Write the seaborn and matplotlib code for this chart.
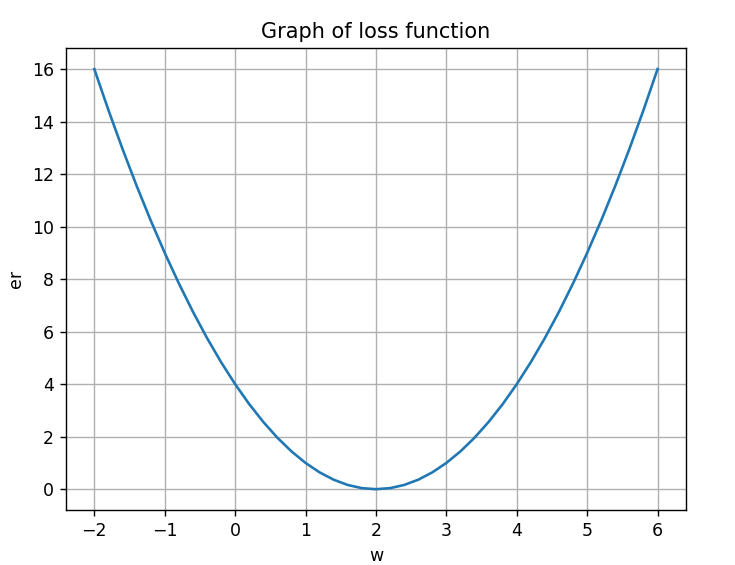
import matplotlib
matplotlib.use("Agg")
import matplotlib.pyplot as plt
import seaborn as sns
import pandas as pd

# values
w = [-2.0, -1.8, -1.6, -1.4, -1.2, -1.0, -0.8, -0.6, -0.4, -0.2,
     0.0, 0.2, 0.4, 0.6, 0.8, 1.0, 1.2, 1.4, 1.6, 1.8,
     2.0, 2.2, 2.4, 2.6, 2.8, 3.0, 3.2, 3.4, 3.6, 3.8,
     4.0, 4.2, 4.4, 4.6, 4.8, 5.0, 5.2, 5.4, 5.6, 5.8, 6.0]
er = [16.0, 14.44, 12.96, 11.56, 10.24, 9.0, 7.84, 6.76, 5.76, 4.84,
      4.0, 3.24, 2.56, 1.96, 1.44, 1.0, 0.64, 0.36, 0.16, 0.04,
      0.0, 0.04, 0.16, 0.36, 0.64, 1.0, 1.44, 1.96, 2.56, 3.24,
      4.0, 4.84, 5.76, 6.76, 7.84, 9.0, 10.24, 11.56, 12.96, 14.44, 16.0]

loss_df = pd.DataFrame({"w": w, "er": er})

fig, ax = plt.subplots(figsize=(5.88, 4.52), dpi=125)
fig.subplots_adjust(left=0.09, right=0.933, top=0.915, bottom=0.097)

sns.lineplot(data=loss_df, x="w", y="er", color="#1f77b4", linewidth=1.5, ax=ax)

ax.set_title("Graph of loss function")
ax.set_xlabel("w")
ax.set_ylabel("er")
ax.set_yticks([0, 2, 4, 6, 8, 10, 12, 14, 16])
ax.grid(True)

plt.savefig("out.png", dpi=125)
